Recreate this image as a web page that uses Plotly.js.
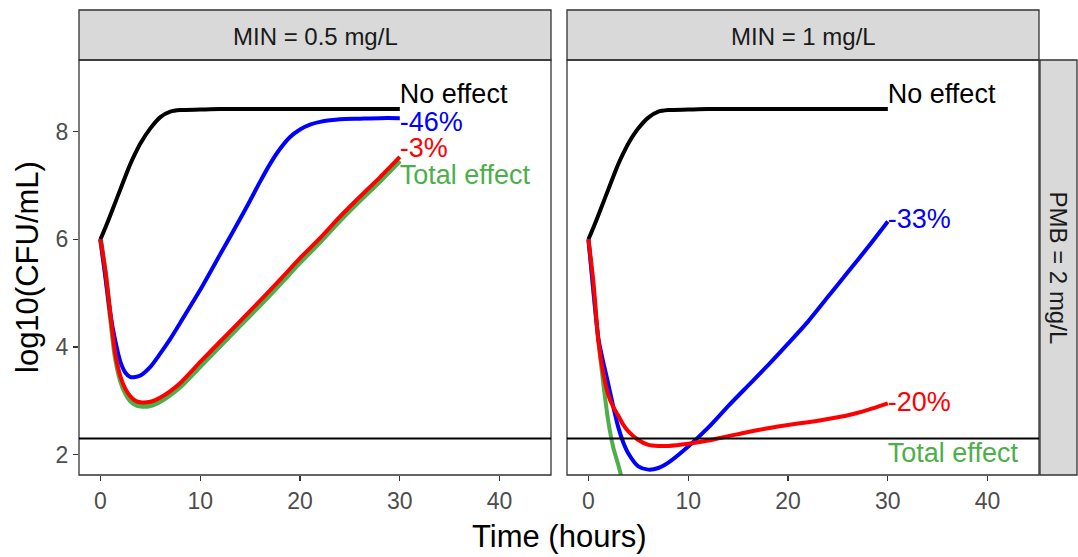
<!DOCTYPE html>
<html>
<head>
<meta charset="utf-8">
<script src="https://cdn.plot.ly/plotly-3.0.1.min.js"></script>
<style>html,body{margin:0;padding:0;background:#fff;}#chart{width:1078px;height:557px;}</style>
</head>
<body>
<div id="chart"></div>
<script>
// ---- data ----
const time = [0,0.5,1,1.5,2,2.5,3,3.5,4,5,6,7,8,10,12,14,16,18,20,22,24,26,28,30];

// Panel 1: MIN = 0.5 mg/L
const p1_noEffect    = [6.0,6.22,6.45,6.69,6.93,7.17,7.4,7.6,7.78,8.06,8.27,8.37,8.40,8.41,8.42,8.42,8.42,8.42,8.42,8.42,8.42,8.42,8.42,8.42];
const p1_blue_time   = [0,0.5,1,1.5,2,2.5,3,3.5,4,5,6,7,8,10,12,14,15,16,17,18,19,20,21,22,23,24,26,28,30];
const p1_blue        = [6.0,5.3,4.6,4.1,3.72,3.52,3.44,3.44,3.47,3.63,3.88,4.15,4.45,5.06,5.72,6.38,6.72,7.07,7.4,7.68,7.9,8.04,8.13,8.18,8.21,8.23,8.24,8.25,8.25];
const p1_red         = [6.0,5.4,4.6,3.85,3.45,3.22,3.08,3.0,2.97,2.98,3.06,3.18,3.33,3.72,4.1,4.48,4.86,5.25,5.65,6.02,6.42,6.79,7.15,7.53];
const p1_total       = [6.0,5.36,4.55,3.8,3.38,3.14,3.0,2.93,2.9,2.91,2.99,3.11,3.26,3.64,4.02,4.4,4.78,5.17,5.57,5.95,6.35,6.72,7.08,7.46];

// Panel 2: MIN = 1 mg/L
const p2_noEffect    = [6.0,6.22,6.45,6.69,6.93,7.17,7.4,7.6,7.78,8.06,8.26,8.37,8.40,8.41,8.42,8.42,8.42,8.42,8.42,8.42,8.42,8.42,8.42,8.42];
const p2_blue        = [6.0,5.05,4.15,3.7,3.3,2.88,2.5,2.22,2.02,1.78,1.72,1.75,1.85,2.15,2.5,2.9,3.28,3.66,4.06,4.47,4.93,5.39,5.85,6.33];
const p2_red         = [6.0,5.2,4.1,3.5,3.1,2.88,2.72,2.55,2.43,2.27,2.18,2.16,2.16,2.2,2.26,2.34,2.42,2.49,2.55,2.6,2.66,2.73,2.83,2.95];
const p2_total_time  = [0,0.5,1,1.5,2,2.5,3,3.5,4,5];
const p2_total       = [6.0,5.0,4.1,3.3,2.6,2.12,1.8,1.45,1.1,0.4];

const panelTitles = ["MIN = 0.5 mg/L", "MIN = 1 mg/L"];
const rowTitle = "PMB = 2 mg/L";
const p1_labels   = ["No effect", "-46%", "-3%", "Total effect"];
const p1_labelY   = [8.66, 8.14, 7.65, 7.16];
const p2_labels   = ["No effect", "-33%", "-20%", "Total effect"];
const p2_labelY   = [8.66, 6.34, 2.94, 1.98];
const labelX = 30;
const limitLine = 2.3;
const xTicks = [0,10,20,30,40];
const yTicks = [2,4,6,8];

// ---- styling ----
const COL = {none:"#000000", blue:"#0000FF", red:"#FF0000", total:"#4DAF4A"};
const FONT = "Liberation Sans, Arial, sans-serif";

function line(x, y, color, w, xa, ya){
  return {x:x, y:y, type:"scatter", mode:"lines", line:{color:color, width:w, shape:"spline", smoothing:0.7},
          xaxis:xa, yaxis:ya, hoverinfo:"skip", showlegend:false};
}
function labels(txt, ys, colors, xa, ya){
  return {x:txt.map(()=>labelX), y:ys, text:txt, type:"scatter", mode:"text", textposition:"middle right",
          textfont:{family:FONT, size:27, color:colors}, cliponaxis:false, xaxis:xa, yaxis:ya,
          hoverinfo:"skip", showlegend:false};
}
const lblColors = [COL.none, COL.blue, COL.red, COL.total];

const traces = [
  line(time, p1_noEffect, COL.none, 4, "x", "y"),
  line(time, p1_total, COL.total, 5, "x", "y"),
  line(p1_blue_time, p1_blue, COL.blue, 4, "x", "y"),
  line(time, p1_red, COL.red, 4, "x", "y"),
  labels(p1_labels, p1_labelY, lblColors, "x", "y"),
  line(time, p2_noEffect, COL.none, 4, "x2", "y2"),
  line(p2_total_time, p2_total, COL.total, 4, "x2", "y2"),
  line(time, p2_blue, COL.blue, 4, "x2", "y2"),
  line(time, p2_red, COL.red, 4, "x2", "y2"),
  labels(p2_labels, p2_labelY, lblColors, "x2", "y2"),
];

const W = 1078, H = 557;
const px = v => v / W, py = v => 1 - v / H;
const panelTop = 60, panelBot = 475;
const p1L = 79, p1R = 551, p2L = 567, p2R = 1039;
const xRange = [-2.15, 45.15], yRange = [1.62, 9.33];

const xaxisBase = {range:xRange, tickvals:xTicks, ticks:"outside", ticklen:5, tickwidth:1.3, tickcolor:"#333333",
  showgrid:false, zeroline:false, showline:false, tickfont:{family:FONT, size:23, color:"#4D4D4D"}, fixedrange:true};
const yaxisBase = {range:yRange, tickvals:yTicks, ticks:"outside", ticklen:5, tickwidth:1.3, tickcolor:"#333333",
  showgrid:false, zeroline:false, showline:false, tickfont:{family:FONT, size:23, color:"#4D4D4D"}, fixedrange:true,
  domain:[py(panelBot), py(panelTop)]};

const shapes = [];
[[p1L,p1R],[p2L,p2R]].forEach(([l,r])=>{
  shapes.push({type:"rect", xref:"paper", yref:"paper", x0:px(l), x1:px(r), y0:py(panelBot), y1:py(panelTop),
    line:{color:"#333333", width:1.3}, fillcolor:"rgba(0,0,0,0)", layer:"above"});
  shapes.push({type:"rect", xref:"paper", yref:"paper", x0:px(l), x1:px(r), y0:py(panelTop), y1:py(10),
    line:{color:"#333333", width:1.3}, fillcolor:"#D9D9D9", layer:"below"});
});
shapes.push({type:"rect", xref:"paper", yref:"paper", x0:px(p2R+1), x1:px(1077), y0:py(panelBot), y1:py(panelTop),
  line:{color:"#333333", width:1.3}, fillcolor:"#D9D9D9", layer:"below"});
shapes.push({type:"line", xref:"x domain", yref:"y", x0:0, x1:1, y0:limitLine, y1:limitLine, line:{color:"#000", width:2}});
shapes.push({type:"line", xref:"x2 domain", yref:"y2", x0:0, x1:1, y0:limitLine, y1:limitLine, line:{color:"#000", width:2}});

const annotations = [
  {text:panelTitles[0], xref:"paper", yref:"paper", x:px((p1L+p1R)/2), y:py(36), showarrow:false,
   font:{family:FONT, size:24, color:"#1A1A1A"}, xanchor:"center", yanchor:"middle"},
  {text:panelTitles[1], xref:"paper", yref:"paper", x:px((p2L+p2R)/2), y:py(36), showarrow:false,
   font:{family:FONT, size:24, color:"#1A1A1A"}, xanchor:"center", yanchor:"middle"},
  {text:rowTitle, xref:"paper", yref:"paper", x:px(1058), y:py((panelTop+panelBot)/2), showarrow:false, textangle:90,
   font:{family:FONT, size:24, color:"#1A1A1A"}, xanchor:"center", yanchor:"middle"},
  {text:"Time (hours)", xref:"paper", yref:"paper", x:px(559), y:py(536), showarrow:false,
   font:{family:FONT, size:31, color:"#000"}, xanchor:"center", yanchor:"middle"},
  {text:"log10(CFU/mL)", xref:"paper", yref:"paper", x:px(27), y:py(267), showarrow:false, textangle:-90,
   font:{family:FONT, size:31, color:"#000"}, xanchor:"center", yanchor:"middle"},
];

const layout = {
  width:W, height:H, margin:{l:0,r:0,t:0,b:0}, paper_bgcolor:"#fff", plot_bgcolor:"#fff", showlegend:false,
  xaxis:Object.assign({}, xaxisBase, {domain:[px(p1L), px(p1R)], anchor:"y"}),
  xaxis2:Object.assign({}, xaxisBase, {domain:[px(p2L), px(p2R)], anchor:"y2"}),
  yaxis:Object.assign({}, yaxisBase, {anchor:"x"}),
  yaxis2:Object.assign({}, yaxisBase, {anchor:"x2", showticklabels:false, ticks:""}),
  shapes:shapes, annotations:annotations
};

Plotly.newPlot("chart", traces, layout, {displayModeBar:false, staticPlot:true});
</script>
</body>
</html>
